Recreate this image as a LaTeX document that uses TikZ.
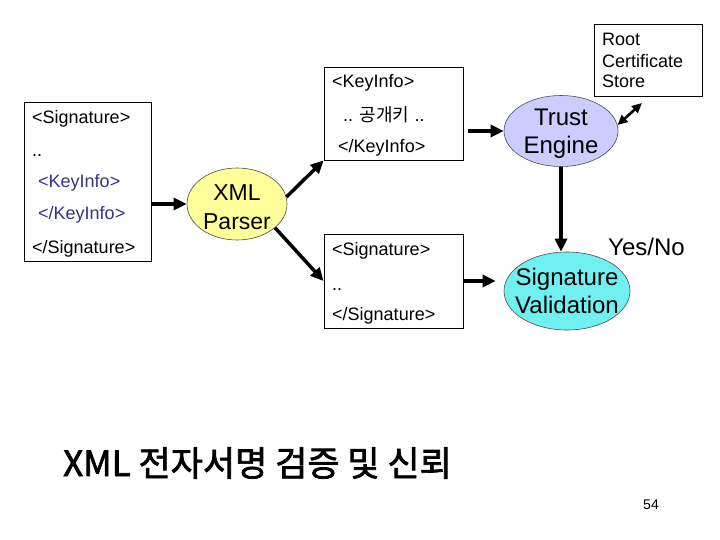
\documentclass[tikz,border=0pt]{standalone}
\usepackage{fontspec}
\setmainfont{Liberation Sans}
\newfontfamily\kr{Noto Sans CJK KR}
\newfontfamily\krtitle[FakeBold=2]{Noto Sans CJK KR}
\usetikzlibrary{arrows.meta, positioning, shapes.geometric}
\definecolor{parserfill}{HTML}{FFFF99}
\definecolor{trustfill}{HTML}{CCCCFF}
\definecolor{validfill}{HTML}{70F0F0}
\definecolor{keytext}{HTML}{333388}

\begin{document}
\begin{tikzpicture}[x=1pt, y=-1pt,
    every node/.style={inner sep=0pt},
    doc/.style={rectangle, draw=black, line width=0.8pt, inner sep=0pt},
    line/.style={anchor=base west, font=\fontsize{18}{21}\selectfont},
    big/.style={align=center, font=\fontsize{24}{28}\selectfont},
    blob/.style={ellipse, draw=black!70, line width=0.6pt, inner sep=0pt},
    arr/.style={-{Triangle[length=13pt, width=12pt]}, line width=3.5pt},
    dbl/.style={{Triangle[length=10pt, width=9pt]}-{Triangle[length=10pt, width=9pt]}, line width=2.6pt},
]
\useasboundingbox (0,0) rectangle (720,540);

% input document
\node[doc, minimum width=127, minimum height=159] (sigdoc) at (87.5,181.5) {};
\foreach \t/\x/\y/\c [count=\i] in {{<Signature>}/32/124/black, {..}/32/157/black,
    {<KeyInfo>}/38/188/keytext, {</KeyInfo>}/38/219/keytext, {</Signature>}/32/253/black}
    \node[line, text=\c] (sigdoc-\i) at (\x,\y) {\t};

% parsed parts
\node[doc, minimum width=139, minimum height=93] (keydoc) at (393.5,113.5) {};
\foreach \t/\x/\y [count=\i] in {{<KeyInfo>}/332/88, {.. {\kr 공개키} ..}/343/122, {</KeyInfo>}/338/153}
    \node[line] (keydoc-\i) at (\x,\y) {\t};

\node[doc, minimum width=139, minimum height=94] (sigpart) at (393.5,281) {};
\foreach \t/\y [count=\i] in {{<Signature>}/255, {..}/290, {</Signature>}/320}
    \node[line] (sigpart-\i) at (332,\y) {\t};

\node[doc, minimum width=108, minimum height=72] (root) at (648,60) {};
\foreach \t/\y [count=\i] in {Root/46, Certificate/68, Store/88}
    \node[line] (root-\i) at (602,\y) {\t};

% engines
\node[blob, fill=parserfill, minimum width=100, minimum height=72] (parser) at (237,204) {};
\node[big, font=\fontsize{23}{29}\selectfont] (parser-t) at (237,207) {XML\\Parser};
\node[blob, fill=trustfill, minimum width=114, minimum height=71] (trust) at (561,131) {};
\node[big] (trust-t) at (561,134) {Trust\\Engine};
\node[blob, fill=validfill, minimum width=126, minimum height=78] (valid) at (567,291) {};
\node[big] (valid-t) at (567,291) {Signature\\Validation};
\node[big, anchor=base west] (yesno) at (608,255) {Yes/No};

\draw[arr] (sigdoc.east |- parser) -- (parser.west);
\draw[arr] (parser.8) -- (keydoc.south west);
\draw[arr] (parser.-32) -- (sigpart.west);
\draw[arr, shorten <=5pt] (keydoc.east |- trust) -- (trust.west);
\draw[arr] (trust.south) -- (trust.south |- valid.north);
\draw[arr, shorten >=8pt] (sigpart.east) -- (sigpart.east -| valid.west);
\coordinate (rootend) at (642,103);
\draw[dbl] (trust.6) -- (rootend);

\node[anchor=west, font=\krtitle\fontsize{35}{40}\selectfont] (title) at (63,463) {XML 전자서명 검증 및 신뢰};
\node[font=\fontsize{14}{16}\selectfont] (page) at (651,505) {54};
\end{tikzpicture}
\end{document}
